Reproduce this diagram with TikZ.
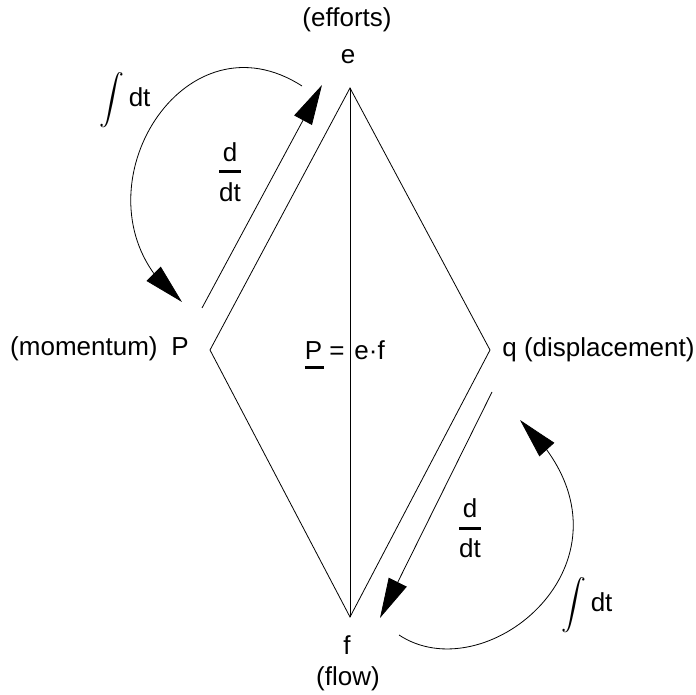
\documentclass[tikz,border=0pt]{standalone}
\usepackage{amsmath}
\usepackage{fontspec}
\setmainfont{Liberation Sans}
\usetikzlibrary{arrows.meta, bending}
\newcommand{\ddt}{$\genfrac{}{}{3pt}{0}{\mbox{d}}{\mbox{dt}}$}
\newcommand{\intdt}{$\displaystyle\int$\,dt}
\newcommand{\ulP}{\rlap{\rule[-10pt]{19pt}{3pt}}P}

\begin{document}
\begin{tikzpicture}[x=1pt, y=-1pt, line width=0.8pt,
	txt/.style={font=\fontsize{26}{30}\selectfont, inner sep=0pt},
	bigtip/.style={-{Triangle[length=40pt, width=20pt]}}]
	\useasboundingbox (0,0) rectangle (696,695);
	% corners of the diamond
	\coordinate (top) at (350,88);
	\coordinate (left) at (210,350);
	\coordinate (right) at (490,350);
	\coordinate (bot) at (350,617);
	\draw (top) -- (right) -- (bot) -- (left) -- cycle;
	\draw (top) -- (bot);
	% labels
	\node[txt] (efforts) at (347,20) {(efforts)};
	\node[txt] (e) at (348,57) {e};
	\node[txt] (f) at (347,645) {f};
	\node[txt] (flow) at (348,679) {(flow)};
	\node[txt, anchor=base] (P) at (180,355) {P};
	\node[txt, anchor=base east] (momentum) at (158,355) {(momentum)};
	\node[txt, anchor=base west] (q) at (502,356) {q (displacement)};
	\node[txt, anchor=base east] (power) at (345,359) {\ulP\ =};
	\node[txt, anchor=base west] (ef) at (354,359) {e·f};
	% derivative arrows
	\coordinate (dA) at (202,308);
	\coordinate (dB) at (322,85);
	\draw[bigtip] (dA) -- (dB);
	\coordinate (dC) at (492,392);
	\coordinate (dD) at (380,618);
	\draw[bigtip] (dC) -- (dD);
	\node[txt] (ddtL) at (230,172) {\ddt};
	\node[txt] (ddtR) at (470,528) {\ddt};
	% integral arrows
	\coordinate (iA) at (302,86);
	\coordinate (iB) at (182,302);
	\draw[bigtip] (iA) .. controls (176,5) and (61,211) .. (iB);
	\coordinate (iC) at (399,635);
	\coordinate (iD) at (520,420);
	\draw[bigtip] (iC) .. controls (490,695) and (660,550) .. (iD);
	\node[txt] (intL) at (125,100) {\intdt};
	\node[txt] (intR) at (587,605) {\intdt};
\end{tikzpicture}
\end{document}
